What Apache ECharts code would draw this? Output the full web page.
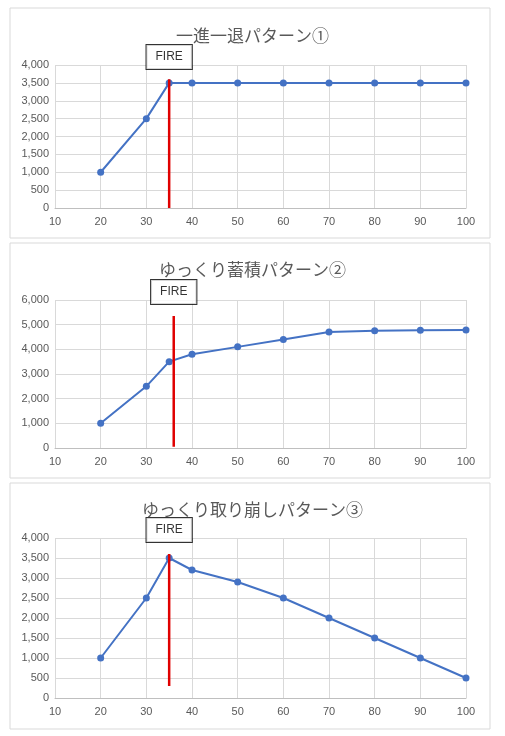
<!DOCTYPE html><html><head><meta charset="utf-8"><script src="https://cdn.jsdelivr.net/npm/echarts@6/dist/echarts.min.js"></script>
<style>body{margin:0;background:#fff}#c{width:505px;height:736px}</style></head><body><div id="c"></div><script>
const ages1=[20,30,35,40,50,60,70,80,90,100];
const vals1=[1000,2500,3500,3500,3500,3500,3500,3500,3500,3500];
const vals2=[1000,2500,3500,3800,4100,4400,4700,4750,4770,4780];
const vals3=[1000,2500,3500,3200,2900,2500,2000,1500,1000,500];
const titles=['一進一退パターン①','ゆっくり蓄積パターン②','ゆっくり取り崩しパターン③'];
const fire=[{x:35,y0:0,y1:3600,ly:4000,max:4000,int:500},{x:36,y0:50,y1:5350,ly:6000,max:6000,int:1000},{x:35,y0:300,y1:3600,ly:4000,max:4000,int:500}];
const grids=[{top:65,height:143},{top:300,height:148},{top:538,height:160}];
const boxes=[[10,8,480,230],[10,243,480,235],[10,483,480,246]];
const titleY=[22,256,496];
const series=[],xAxis=[],yAxis=[],title=[];
const all=[vals1,vals2,vals3];
const font='"Liberation Sans","Noto Sans CJK JP",sans-serif';
for(let i=0;i<3;i++){
 title.push({text:titles[i],left:'center',top:titleY[i],textStyle:{color:'#595959',fontSize:17,fontWeight:'normal',fontFamily:'"Noto Sans CJK JP",sans-serif'}});
 xAxis.push({type:'value',gridIndex:i,min:10,max:100,interval:10,axisLine:{lineStyle:{color:'#bfbfbf'}},axisTick:{show:false},splitLine:{lineStyle:{color:'#d9d9d9'}},axisLabel:{color:'#595959',fontSize:11,fontFamily:font}});
 yAxis.push({type:'value',gridIndex:i,min:0,max:fire[i].max,interval:fire[i].int,axisLine:{show:false},axisTick:{show:false},splitLine:{lineStyle:{color:'#d9d9d9'}},axisLabel:{color:'#595959',fontSize:11,fontFamily:font,margin:6}});
 series.push({type:'line',xAxisIndex:i,yAxisIndex:i,data:ages1.map((a,j)=>[a,all[i][j]]),symbol:'circle',symbolSize:7,itemStyle:{color:'#4472c4'},lineStyle:{color:'#4472c4',width:2},z:3});
 series.push({type:'line',xAxisIndex:i,yAxisIndex:i,data:[[fire[i].x,fire[i].y0],[fire[i].x,fire[i].y1]],symbol:'none',lineStyle:{color:'#e00000',width:2.5},z:4});
 series.push({type:'scatter',xAxisIndex:i,yAxisIndex:i,data:[[fire[i].x,fire[i].ly]],symbolSize:0,z:5,label:{show:true,formatter:'FIRE',position:'top',distance:-4,color:'#000',fontSize:12,fontFamily:font,backgroundColor:'#fff',borderColor:'#000',borderWidth:1,padding:[6,9]}});
}
const chart=echarts.init(document.getElementById('c'));
chart.setOption({animation:false,title,grid:grids.map(g=>({left:55,right:39,top:g.top,height:g.height})),xAxis,yAxis,series,
graphic:boxes.map(b=>({type:'rect',shape:{x:b[0],y:b[1],width:b[2],height:b[3]},style:{fill:'none',stroke:'#d9d9d9',lineWidth:1},z:-1}))});
</script></body></html>
